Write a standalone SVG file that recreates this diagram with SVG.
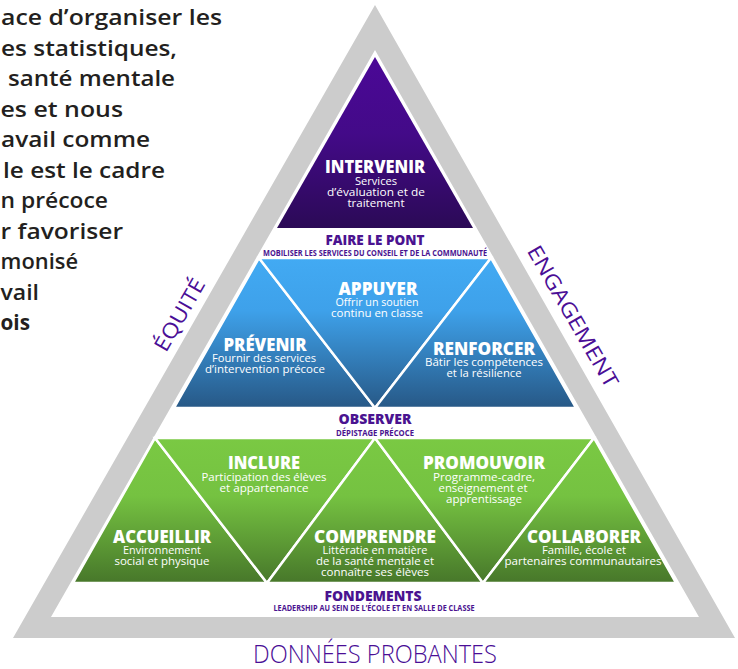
<svg xmlns="http://www.w3.org/2000/svg" width="738" height="669" viewBox="0 0 738 669">
<style>
.intro{font-family:"Open Sans","Liberation Sans",sans-serif;font-weight:600;font-size:22px;fill:#231F20}
.introb{font-weight:700}
.h{font-family:"Open Sans","Liberation Sans",sans-serif;font-weight:800;font-size:17px;fill:#fff;text-anchor:middle}
.b{font-family:"Open Sans","Liberation Sans",sans-serif;font-weight:400;font-size:10.5px;fill:#fff;text-anchor:middle}
.lbl{font-family:"Open Sans","Liberation Sans",sans-serif;font-weight:800;font-size:14px;fill:#4A1390;text-anchor:middle}
.sm{font-family:"Open Sans","Liberation Sans",sans-serif;font-weight:700;font-size:8px;fill:#4A1390;text-anchor:middle}
.side{font-family:"Open Sans","Liberation Sans",sans-serif;font-weight:400;font-size:21px;fill:#4A0E96;text-anchor:middle}
.base{font-family:"Open Sans","Liberation Sans",sans-serif;font-weight:300;font-size:25px;fill:#4A0E96;text-anchor:middle}
.tri{stroke:#fff;stroke-width:2.5;stroke-linejoin:miter}
</style>
<defs>
<linearGradient id="gPurple" gradientUnits="userSpaceOnUse" x1="0" y1="57" x2="0" y2="228">
<stop offset="0" stop-color="#4B0897"/><stop offset="0.45" stop-color="#430A88"/><stop offset="1" stop-color="#2B0A56"/>
</linearGradient>
<linearGradient id="gBlue" gradientUnits="userSpaceOnUse" x1="0" y1="258" x2="0" y2="408">
<stop offset="0" stop-color="#42AAF3"/><stop offset="0.35" stop-color="#3EA1EA"/><stop offset="1" stop-color="#275886"/>
</linearGradient>
<linearGradient id="gGreen" gradientUnits="userSpaceOnUse" x1="0" y1="438" x2="0" y2="583">
<stop offset="0" stop-color="#7AC943"/><stop offset="0.4" stop-color="#75C241"/><stop offset="1" stop-color="#47772A"/>
</linearGradient>
</defs>
<rect width="738" height="669" fill="#fff"/>

<g id="intro-text">
<text class="intro" x="1" y="25" textLength="221" lengthAdjust="spacingAndGlyphs">ace d’organiser les</text>
<text class="intro" x="1" y="55.5" textLength="176" lengthAdjust="spacingAndGlyphs">es statistiques,</text>
<text class="intro" x="8" y="86" textLength="167" lengthAdjust="spacingAndGlyphs">santé mentale</text>
<text class="intro" x="0.5" y="116.5" textLength="122.5" lengthAdjust="spacingAndGlyphs">es et nous</text>
<text class="intro" x="1" y="147" textLength="149" lengthAdjust="spacingAndGlyphs">avail comme</text>
<text class="intro" x="3" y="177.5" textLength="162" lengthAdjust="spacingAndGlyphs">le est le cadre</text>
<text class="intro" x="0.5" y="208" textLength="107.5" lengthAdjust="spacingAndGlyphs">n précoce</text>
<text class="intro" x="0.5" y="238.5" textLength="122.5" lengthAdjust="spacingAndGlyphs">r favoriser</text>
<text class="intro" x="0.5" y="269" textLength="77.5" lengthAdjust="spacingAndGlyphs">monisé</text>
<text class="intro" x="0.5" y="299.5" textLength="38.5" lengthAdjust="spacingAndGlyphs">vail</text>
<text class="intro introb" x="0.5" y="330" textLength="29.5" lengthAdjust="spacingAndGlyphs">ois</text>
</g>

<g id="frame">
<path d="M375,5 L13,638 L735,638 Z M375,50 L699,617 L51,617 Z" fill="#CCCCCC" fill-rule="evenodd"/>
</g>
<g id="label-equite">
<text class="side" transform="translate(186,318.5) rotate(-60)" textLength="80" lengthAdjust="spacingAndGlyphs">ÉQUITÉ</text>
</g>
<g id="label-engagement">
<text class="side" transform="translate(566.5,320) rotate(60)" textLength="160" lengthAdjust="spacingAndGlyphs">ENGAGEMENT</text>
</g>
<g id="label-donnees">
<text class="base" x="375" y="663" textLength="244" lengthAdjust="spacingAndGlyphs">DONNÉES PROBANTES</text>
</g>

<g id="intervenir">
<polygon points="375,57 277,228 473,228" fill="url(#gPurple)"/>
<text class="h" x="375" y="173" textLength="100" lengthAdjust="spacingAndGlyphs">INTERVENIR</text>
<text class="b" x="376" y="185" textLength="42" lengthAdjust="spacingAndGlyphs">Services</text>
<text class="b" x="376" y="196" textLength="98" lengthAdjust="spacingAndGlyphs">d’évaluation et de</text>
<text class="b" x="376" y="207" textLength="57" lengthAdjust="spacingAndGlyphs">traitement</text>
</g>

<g id="faire-le-pont">
<text class="lbl" x="375" y="245" textLength="99" lengthAdjust="spacingAndGlyphs">FAIRE LE PONT</text>
<text class="sm" x="375" y="256" textLength="224" lengthAdjust="spacingAndGlyphs">MOBILISER LES SERVICES DU CONSEIL ET DE LA COMMUNAUTÉ</text>
</g>

<g id="prevenir">
<polygon class="tri" points="259,258 174,408 375,408" fill="url(#gBlue)"/>
<text class="h" x="265" y="351" textLength="83" lengthAdjust="spacingAndGlyphs">PRÉVENIR</text>
<text class="b" x="264" y="362" textLength="104" lengthAdjust="spacingAndGlyphs">Fournir des services</text>
<text class="b" x="265" y="373" textLength="120" lengthAdjust="spacingAndGlyphs">d’intervention précoce</text>
</g>
<g id="appuyer">
<polygon class="tri" points="259,258 491,258 375,408" fill="url(#gBlue)"/>
<text class="h" x="378" y="295" textLength="79" lengthAdjust="spacingAndGlyphs">APPUYER</text>
<text class="b" x="377" y="306" textLength="83" lengthAdjust="spacingAndGlyphs">Offrir un soutien</text>
<text class="b" x="377" y="317" textLength="92" lengthAdjust="spacingAndGlyphs">continu en classe</text>
</g>
<g id="renforcer">
<polygon class="tri" points="491,258 375,408 576,408" fill="url(#gBlue)"/>
<text class="h" x="484" y="355" textLength="102" lengthAdjust="spacingAndGlyphs">RENFORCER</text>
<text class="b" x="484" y="366" textLength="118" lengthAdjust="spacingAndGlyphs">Bâtir les compétences</text>
<text class="b" x="484" y="377" textLength="75" lengthAdjust="spacingAndGlyphs">et la résilience</text>
</g>

<g id="observer">
<text class="lbl" x="375" y="424" textLength="73" lengthAdjust="spacingAndGlyphs">OBSERVER</text>
<text class="sm" x="375" y="436" textLength="78" lengthAdjust="spacingAndGlyphs">DÉPISTAGE PRÉCOCE</text>
</g>

<g id="accueillir">
<polygon class="tri" points="73,583 155,438 267,583" fill="url(#gGreen)"/>
<text class="h" x="162" y="543" textLength="98" lengthAdjust="spacingAndGlyphs">ACCUEILLIR</text>
<text class="b" x="162" y="553.5" textLength="78" lengthAdjust="spacingAndGlyphs">Environnement</text>
<text class="b" x="162" y="564.5" textLength="95" lengthAdjust="spacingAndGlyphs">social et physique</text>
</g>
<g id="inclure">
<polygon class="tri" points="155,438 375,438 267,583" fill="url(#gGreen)"/>
<text class="h" x="264" y="469" textLength="72" lengthAdjust="spacingAndGlyphs">INCLURE</text>
<text class="b" x="264" y="480.5" textLength="125" lengthAdjust="spacingAndGlyphs">Participation des élèves</text>
<text class="b" x="264" y="491.5" textLength="89" lengthAdjust="spacingAndGlyphs">et appartenance</text>
</g>
<g id="comprendre">
<polygon class="tri" points="267,583 375,438 483,583" fill="url(#gGreen)"/>
<text class="h" x="375" y="543" textLength="122" lengthAdjust="spacingAndGlyphs">COMPRENDRE</text>
<text class="b" x="375" y="553.5" textLength="105" lengthAdjust="spacingAndGlyphs">Littératie en matière</text>
<text class="b" x="375" y="564.5" textLength="118" lengthAdjust="spacingAndGlyphs">de la santé mentale et</text>
<text class="b" x="375" y="575.5" textLength="108" lengthAdjust="spacingAndGlyphs">connaître ses élèves</text>
</g>
<g id="promouvoir">
<polygon class="tri" points="375,438 594,438 483,583" fill="url(#gGreen)"/>
<text class="h" x="484" y="469" textLength="122" lengthAdjust="spacingAndGlyphs">PROMOUVOIR</text>
<text class="b" x="484" y="480.5" textLength="102" lengthAdjust="spacingAndGlyphs">Programme-cadre,</text>
<text class="b" x="483" y="491.5" textLength="89" lengthAdjust="spacingAndGlyphs">enseignement et</text>
<text class="b" x="484" y="502.5" textLength="76" lengthAdjust="spacingAndGlyphs">apprentissage</text>
</g>
<g id="collaborer">
<polygon class="tri" points="483,583 594,438 676,583" fill="url(#gGreen)"/>
<text class="h" x="584" y="543" textLength="114" lengthAdjust="spacingAndGlyphs">COLLABORER</text>
<text class="b" x="584" y="553.5" textLength="84" lengthAdjust="spacingAndGlyphs">Famille, école et</text>
<text class="b" x="583" y="564.5" textLength="157" lengthAdjust="spacingAndGlyphs">partenaires communautaires</text>
</g>

<g id="fondements">
<text class="lbl" x="373" y="601" font-size="15" textLength="97" lengthAdjust="spacingAndGlyphs">FONDEMENTS</text>
<text class="sm" x="374" y="611" textLength="201" lengthAdjust="spacingAndGlyphs">LEADERSHIP AU SEIN DE L’ÉCOLE ET EN SALLE DE CLASSE</text>
</g>

<g id="connectors"></g>
</svg>
